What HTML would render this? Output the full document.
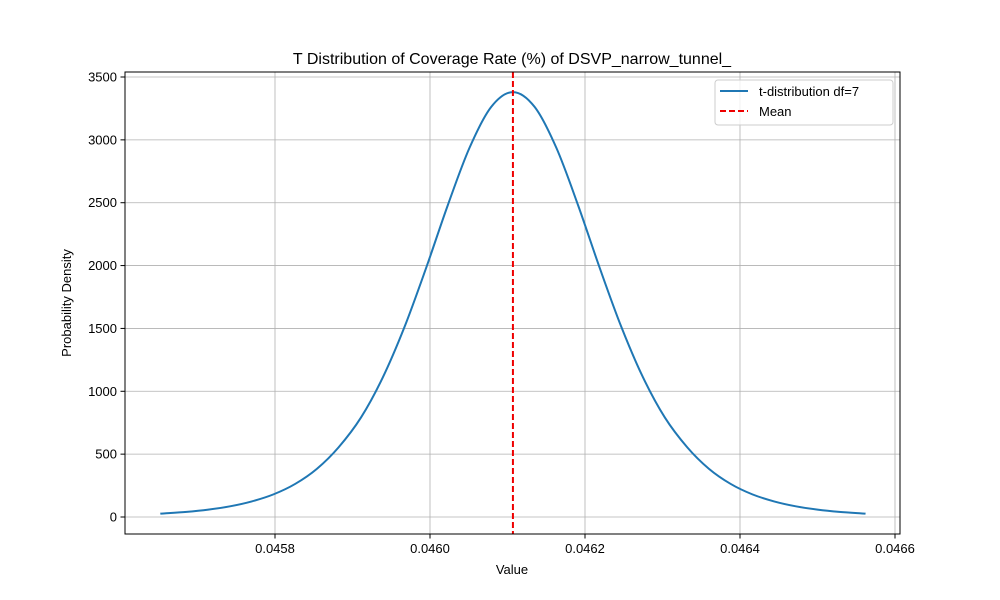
<!DOCTYPE html>
<html><head><meta charset="utf-8"><style>
body{margin:0;background:#fff;}
svg{display:block;font-family:"Liberation Sans","DejaVu Sans",sans-serif;}
</style></head><body>
<svg id="chart" width="1000" height="600">
<rect width="1000" height="600" fill="#fff"/>
<g id="grid"></g>
<g id="marks"></g>
<rect x="125" y="72" width="775" height="462" fill="none" stroke="#000" stroke-width="1"/>
<g id="axes"></g>
<text x="512" y="64" text-anchor="middle" font-size="16">T Distribution of Coverage Rate (%) of DSVP_narrow_tunnel_</text>
<text x="512" y="574" text-anchor="middle" font-size="13">Value</text>
<text x="71" y="303" text-anchor="middle" font-size="13" transform="rotate(-90 71 303)">Probability Density</text>
<g>
<rect x="715" y="80" width="178" height="45" fill="#fff" fill-opacity="0.8" stroke="#ccc" rx="3"/>
<line x1="720" y1="91" x2="748" y2="91" stroke="#1f77b4" stroke-width="2"/>
<text x="759" y="96" font-size="13">t-distribution df=7</text>
<line x1="720" y1="111" x2="748" y2="111" stroke="#e00" stroke-width="2" stroke-dasharray="6,3"/>
<text x="759" y="116" font-size="13">Mean</text>
</g>
</svg>
<script>
const xValues=[0.045652,0.045658,0.045686,0.045714,0.045742,0.045770,0.045798,0.045826,0.045854,0.045882,0.045911,0.045939,0.045967,0.045995,0.046023,0.046051,0.046079,0.046107,0.046135,0.046163,0.046191,0.046219,0.046247,0.046275,0.046303,0.046332,0.046360,0.046388,0.046416,0.046444,0.046472,0.046500,0.046528,0.046556,0.046562];
const densityValues=[27,29,41,59,85,124,180,263,383,554,792,1109,1510,1981,2481,2937,3262,3380,3262,2937,2481,1981,1510,1109,792,554,383,263,180,124,85,59,41,29,27];
const meanValue=0.046107;
const xTicks=[0.0458,0.0460,0.0462,0.0464,0.0466];
const xTickLabels=["0.0458","0.0460","0.0462","0.0464","0.0466"];
const yTicks=[0,500,1000,1500,2000,2500,3000,3500];

const NS="http://www.w3.org/2000/svg";
function sx(v){return 430+(v-0.0460)/0.0002*155;}
function sy(v){return 517-v*(440/3500);}
function mk(tag,attrs,parent){const e=document.createElementNS(NS,tag);for(const k in attrs)e.setAttribute(k,attrs[k]);document.getElementById(parent).appendChild(e);return e;}

xTicks.forEach((t,i)=>{
  const x=sx(t);
  const g=mk('line',{x1:x,y1:72,x2:x,y2:534,stroke:'#b0b0b0','stroke-width':0.8},'grid');
  
  
  const tk=mk('line',{x1:x,y1:534,x2:x,y2:538.5,stroke:'#000'},'axes');
  
  
  const tx=mk('text',{x:x,y:553,'text-anchor':'middle','font-size':13},'axes');
  tx.textContent=xTickLabels[i];
  
  
});
yTicks.forEach(t=>{
  const y=sy(t);
  const g=mk('line',{x1:125,y1:y,x2:900,y2:y,stroke:'#b0b0b0','stroke-width':0.8},'grid');
  
  
  const tk=mk('line',{x1:120.5,y1:y,x2:125,y2:y,stroke:'#000'},'axes');
  
  
  const tx=mk('text',{x:117,y:y+4.5,'text-anchor':'end','font-size':13},'axes');
  tx.textContent=String(t);
  
  
});
const P=xValues.map((v,i)=>[sx(v),sy(densityValues[i])]);
let d='M'+P[0][0].toFixed(2)+','+P[0][1].toFixed(2);
for(let i=0;i<P.length-1;i++){
  const p0=P[Math.max(0,i-1)],p1=P[i],p2=P[i+1],p3=P[Math.min(P.length-1,i+2)];
  const c1=[p1[0]+(p2[0]-p0[0])/6,p1[1]+(p2[1]-p0[1])/6];
  const c2=[p2[0]-(p3[0]-p1[0])/6,p2[1]-(p3[1]-p1[1])/6];
  d+=' C'+c1[0].toFixed(2)+','+c1[1].toFixed(2)+' '+c2[0].toFixed(2)+','+c2[1].toFixed(2)+' '+p2[0].toFixed(2)+','+p2[1].toFixed(2);
}
const pl=mk('path',{d:d,fill:'none',stroke:'#1f77b4','stroke-width':2,'stroke-linejoin':'round'},'marks');


const ml=mk('line',{x1:sx(meanValue),y1:72,x2:sx(meanValue),y2:534,stroke:'#e00','stroke-width':2,'stroke-dasharray':'6,3'},'marks');


</script>
</body></html>
